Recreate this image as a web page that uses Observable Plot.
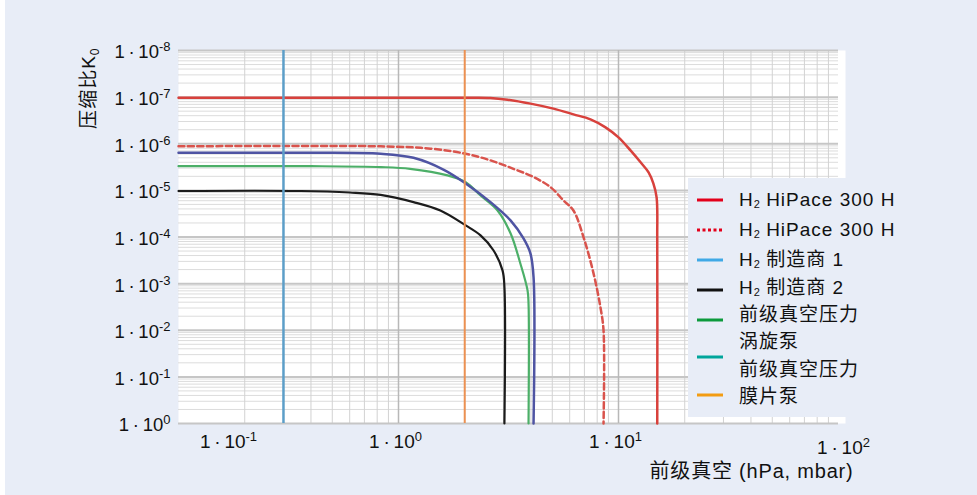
<!DOCTYPE html>
<html><head><meta charset="utf-8">
<script src="https://cdn.jsdelivr.net/npm/d3@7"></script>
<script src="https://cdn.jsdelivr.net/npm/@observablehq/plot@0.6"></script>
<style>
html,body{margin:0;padding:0;background:#ffffff;width:977px;height:495px;overflow:hidden;}
#page{position:absolute;left:5px;top:0;width:972px;height:495px;background:#e8edf7;}
#chart{position:absolute;left:0;top:0;}
#legend{position:absolute;left:688px;top:178px;width:289px;height:239px;background:#e8edf7;font-family:"Liberation Sans",Arial,"Noto Sans CJK SC",sans-serif;font-size:19px;letter-spacing:1px;color:#111;}
.sw{position:absolute;left:9px;width:26px;height:6px;}
.lt{position:absolute;left:51px;line-height:20px;white-space:nowrap;}
.sub{font-size:11px;vertical-align:-2px;letter-spacing:0;}
</style></head><body>
<div id="page"></div>
<div id="chart"></div>
<div id="legend"></div>
<script>
// ---- tick labels ----
const xTickValues = [0.1, 1, 10, 100];
const xTickLabels = ["1\u2009·\u200910^{-1}", "1\u2009·\u200910^{0}", "1\u2009·\u200910^{1}", "1\u2009·\u200910^{2}"];
const yTickValues = [1, 1e1, 1e2, 1e3, 1e4, 1e5, 1e6, 1e7, 1e8];
const yTickLabels = ["1\u2009·\u200910^{0}", "1\u2009·\u200910^{-1}", "1\u2009·\u200910^{-2}", "1\u2009·\u200910^{-3}",
  "1\u2009·\u200910^{-4}", "1\u2009·\u200910^{-5}", "1\u2009·\u200910^{-6}", "1\u2009·\u200910^{-7}", "1\u2009·\u200910^{-8}"];
const xTitle = "前级真空 (hPa, mbar)";
const yTitle = "压缩比K_{0}";

// ---- series (foreline pressure hPa, compression ratio) ----
const hipaceSolidP = [0.1, 0.83, 2.02, 2.62, 3.13, 3.98, 5.06, 6.24, 7.46, 8.73, 10.0, 11.34, 12.6, 13.7, 14.4, 14.9, 15.0, 15.0];
const hipaceSolidK = [9.7e6, 9.7e6, 9.7e6, 9.6e6, 8.8e6, 7.25e6, 5.66e6, 4.27e6, 3.34e6, 2.25e6, 1.37e6, 7.2e5, 4.0e5, 2.43e5, 1.41e5, 7.1e4, 8.5e3, 1];

const hipaceDashP = [0.1, 0.83, 1.40, 2.02, 2.62, 3.33, 4.11, 4.91, 5.62, 6.24, 6.93, 7.7, 8.28, 8.55, 8.55];
const hipaceDashK = [8.8e5, 8.8e5, 7.85e5, 6.1e5, 4.4e5, 2.9e5, 1.93e5, 1.17e5, 6.1e4, 3.7e4, 1.0e4, 1.66e3, 309, 99, 1];

const blueP = [0.1, 0.4, 0.83, 1.17, 1.6, 2.02, 2.62, 3.23, 3.70, 3.98, 4.11, 4.11];
const blueK = [6.4e5, 6.4e5, 6.1e5, 5.0e5, 2.8e5, 1.41e5, 5.6e4, 2.27e4, 9.3e3, 4.4e3, 1.38e3, 1];

const greenP = [0.1, 0.4, 0.83, 1.13, 1.67, 2.02, 2.36, 2.82, 3.23, 3.58, 3.86, 3.9, 3.9];
const greenK = [3.3e5, 3.3e5, 3.16e5, 2.9e5, 2.1e5, 1.5e5, 7.8e4, 3.7e4, 1.2e4, 2.7e3, 715, 376, 1];

const blackP = [0.1, 0.36, 0.6, 0.83, 1.17, 1.55, 2.02, 2.36, 2.70, 2.97, 3.03, 3.03];
const blackK = [9.7e4, 9.7e4, 9.0e4, 8.0e4, 5.6e4, 3.7e4, 1.77e4, 1.08e4, 5.2e3, 1.92e3, 841, 1];

// vertical foreline-pressure markers (hPa)
const scrollPumpP = [0.3];
const diaphragmPumpP = [2];

const toRows = (P, K) => P.map((p, i) => ({p, k: K[i]}));

const gridX = d3.scaleLog().domain([0.1, 100]).ticks();
const gridY = d3.scaleLog().domain([1, 1e8]).ticks(10);
const isPow10 = v => Math.abs(Math.log10(v) - Math.round(Math.log10(v))) < 1e-9;

const font = '"Liberation Sans", Arial, "Noto Sans CJK SC", sans-serif';

const chart = Plot.plot({
  width: 977,
  height: 495,
  marginLeft: 178,
  marginRight: 139,
  marginTop: 50,
  marginBottom: 72,
  x: {type: "log", domain: [0.1, 100], axis: null},
  y: {type: "log", domain: [1, 1e8], axis: null},
  style: {background: "transparent", fontFamily: font, color: "#111"},
  marks: [
    Plot.frame({fill: "white", insetRight: -7}),
    Plot.ruleY(gridY.filter(v => !isPow10(v)), {y: d => d, stroke: "#dcdcdc", strokeWidth: 1}),
    Plot.ruleX(gridX.filter(v => !isPow10(v)), {x: d => d, stroke: "#d2d2d2", strokeWidth: 1}),
    Plot.ruleY(gridY.filter(isPow10), {y: d => d, stroke: "#c6c6c6", strokeWidth: 2}),
    Plot.ruleX(gridX.filter(v => isPow10(v) && v > 0.1 && v < 100), {x: d => d, stroke: "#b8b8b8", strokeWidth: 1.5}),
    Plot.line(toRows(blackP, blackK), {x: "p", y: "k", stroke: "#1b1b1b", strokeWidth: 2.2, curve: "catmull-rom"}),
    Plot.line(toRows(greenP, greenK), {x: "p", y: "k", stroke: "#4caf68", strokeWidth: 2.2, curve: "catmull-rom"}),
    Plot.line(toRows(blueP, blueK), {x: "p", y: "k", stroke: "#4f54a3", strokeWidth: 2.5, curve: "catmull-rom"}),
    Plot.line(toRows(hipaceDashP, hipaceDashK), {x: "p", y: "k", stroke: "#d9534c", strokeWidth: 2.5, strokeDasharray: "6,3.5", curve: "catmull-rom"}),
    Plot.line(toRows(hipaceSolidP, hipaceSolidK), {x: "p", y: "k", stroke: "#d8413c", strokeWidth: 2.5, curve: "catmull-rom"}),
    Plot.ruleX(scrollPumpP, {x: d => d, stroke: "#5c9ec8", strokeWidth: 2.5}),
    Plot.ruleX(diaphragmPumpP, {x: d => d, stroke: "#ec9152", strokeWidth: 2}),
    // y tick labels
    Plot.text(yTickValues, {y: d => d, text: (d, i) => yTickLabels[i], frameAnchor: "left", textAnchor: "end", dx: -8, dy: 2, fontSize: 18.5, fill: "#111"}),
    // x tick labels
    Plot.text(xTickValues.slice(1, 3), {x: d => d, text: (d, i) => xTickLabels[i + 1], frameAnchor: "bottom", lineAnchor: "bottom", dy: 24, dx: -3, fontSize: 19, fill: "#111"}),
    Plot.text(xTickValues.slice(0, 1), {x: d => d, text: (d, i) => xTickLabels[i], frameAnchor: "bottom", lineAnchor: "bottom", dy: 24, dx: 50, fontSize: 19, fill: "#111"}),
    Plot.text(xTickValues.slice(3), {x: d => d, text: (d, i) => xTickLabels[i + 3], frameAnchor: "bottom", lineAnchor: "bottom", dy: 30, dx: 5, fontSize: 19, fill: "#111"}),
    // axis titles
    Plot.text([xTitle], {frameAnchor: "bottom-right", textAnchor: "end", lineAnchor: "bottom", dx: 15, dy: 54, fontSize: 20, fill: "#111"}),
    Plot.text([yTitle], {frameAnchor: "top-left", rotate: -90, textAnchor: "end", lineAnchor: "middle", dx: -90, dy: -3, fontSize: 19, fill: "#111"})
  ]
});

// rich text: ^{..} superscript, _{..} subscript
function richify(svg) {
  svg.querySelectorAll("text").forEach(t => {
    const s = t.textContent;
    if (s.startsWith("前级")) t.setAttribute("letter-spacing", "0.8");
    if (s.startsWith("压缩")) t.setAttribute("letter-spacing", "1");
    if (!/[\^_]\{/.test(s)) return;
    const parts = s.split(/([\^_]\{[^}]*\})/).filter(p => p !== "");
    t.textContent = "";
    let shift = 0;
    for (const p of parts) {
      const ts = document.createElementNS("http://www.w3.org/2000/svg", "tspan");
      let target = 0, txt = p, size = null;
      if (p.startsWith("^{")) { target = -7; txt = p.slice(2, -1); size = "13px"; }
      else if (p.startsWith("_{")) { target = 4; txt = p.slice(2, -1); size = "12px"; }
      if (target !== shift) ts.setAttribute("dy", String(target - shift));
      shift = target;
      if (size) ts.setAttribute("font-size", size);
      ts.textContent = txt;
      t.appendChild(ts);
    }
  });
}
richify(chart);
document.getElementById("chart").appendChild(chart);

// ---- legend ----
const legendLabels = ["H<span class='sub'>2</span> HiPace 300 H", "H<span class='sub'>2</span> HiPace 300 H", "H<span class='sub'>2</span> 制造商 1",
  "H<span class='sub'>2</span> 制造商 2", "前级真空压力", "涡旋泵", "前级真空压力", "膜片泵"];
const legendTextY = [200, 230, 260, 288, 315, 342, 370, 397];
const legendSwatchColors = ["#e3001b", "#e3001b", "#3fa9e6", "#111111", "#0c9a3c", "#00a59b", "#f39c12"];
const legendSwatchDash = [null, "3,2.5", null, null, null, null, null];
const legendSwatchY = [200, 230, 260, 290, 320, 357, 395];
const legendTop = 178;
const leg = document.getElementById("legend");
legendLabels.forEach((lab, i) => {
  const d = document.createElement("div");
  d.className = "lt";
  d.style.top = (legendTextY[i] - 10 - legendTop) + "px";
  d.innerHTML = lab;
  leg.appendChild(d);
});
legendSwatchColors.forEach((c, i) => {
  const s = document.createElementNS("http://www.w3.org/2000/svg", "svg");
  s.setAttribute("class", "sw");
  s.setAttribute("width", 26); s.setAttribute("height", 6);
  s.style.top = (legendSwatchY[i] - 3 - legendTop) + "px";
  const l = document.createElementNS("http://www.w3.org/2000/svg", "line");
  l.setAttribute("x1", 0); l.setAttribute("x2", 26); l.setAttribute("y1", 3); l.setAttribute("y2", 3);
  l.setAttribute("stroke", c); l.setAttribute("stroke-width", 3);
  if (legendSwatchDash[i]) l.setAttribute("stroke-dasharray", legendSwatchDash[i]);
  s.appendChild(l);
  leg.appendChild(s);
});
</script>
</body></html>
